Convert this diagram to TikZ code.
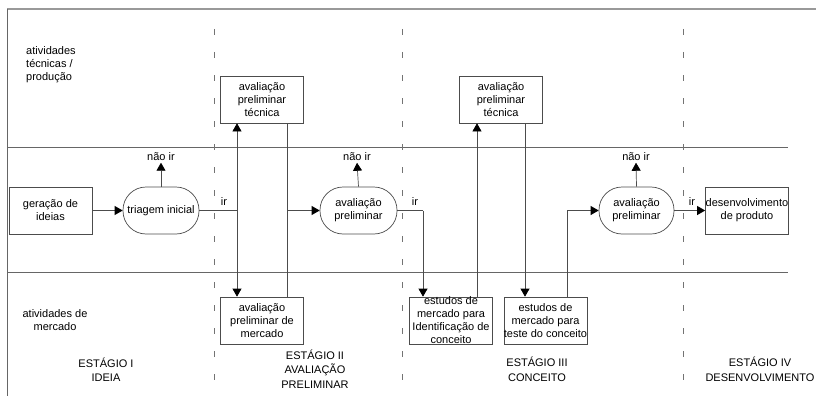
\documentclass[tikz,border=0pt]{standalone}
\usepackage{fontspec}
\setmainfont{Liberation Sans}
\usepackage{tikz}
\usetikzlibrary{arrows.meta}

\begin{document}
\begin{tikzpicture}[x=1pt, y=-1pt, font=\fontsize{11}{13}\selectfont]
    % Define the styles for the nodes and lines
    \tikzstyle{frame} = [draw=black!60, line width=0.8pt]
    \tikzstyle{stage} = [draw=black!55, line width=0.7pt, dash pattern=on 6pt off 17pt]
    \tikzstyle{box} = [rectangle, draw=black!70, line width=0.7pt, minimum width=83pt, minimum height=47pt, align=center, inner sep=0pt]
    \tikzstyle{decision} = [rectangle, rounded corners=23pt, draw=black!70, line width=0.7pt, minimum width=76pt, minimum height=47pt, align=center, inner sep=0pt]
    \tikzstyle{line} = [draw=black!70, line width=0.7pt]
    \tikzstyle{arrow} = [line, -{Triangle[length=8pt, width=9pt, color=black]}]
    \tikzstyle{lbl} = [inner sep=1.5pt, align=center]
    \tikzstyle{stagelbl} = [inner sep=0pt, align=center, font=\fontsize{11}{14.5}\selectfont]

    \useasboundingbox (0,0) rectangle (816,396);
    \clip (0,0) rectangle (816,396);

    % Frame, lanes and stages
    \draw[frame, draw=black!40, line width=1.2pt] (7,9) -- (816,9);
    \draw[frame] (7,9) -- (7,396);
    \draw[frame] (7,147) -- (788,147);
    \draw[frame] (7,272) -- (788,272);
    \foreach \x in {214,402,683}
        \draw[stage] (\x,29) -- (\x,396);

    % Place the nodes
    \node[box] (tec1) at (262,99.5) {avaliação\\preliminar\\técnica};
    \node[box] (tec2) at (501,99.5) {avaliação\\preliminar\\técnica};
    \node[box] (ideias) at (50.5,210.5) {geração de\\ideias};
    \node[decision] (triagem) at (161,210.5) {triagem inicial};
    \node[decision, minimum width=77pt] (prelim1) at (358.5,210.5) {avaliação\\preliminar};
    \node[decision, minimum width=75pt] (prelim2) at (636.5,210.5) {avaliação\\preliminar};
    \node[box] (produto) at (747,210.5) {desenvolvimento\\de produto};
    \node[box] (merc1) at (262,320.5) {avaliação\\preliminar de\\mercado};
    \node[box] (merc2) at (451,320.5) {};
    \node[lbl, inner sep=0pt] (merc2txt) at (merc2) {estudos de\\mercado para\\Identificação de\\conceito};
    \node[box] (merc3) at (545.5,320.5) {estudos de\\mercado para\\teste do conceito};

    \node[lbl] (nao1) at (161,157) {não ir};
    \node[lbl] (nao2) at (357,157) {não ir};
    \node[lbl] (nao3) at (636,157) {não ir};
    \node[lbl] (ir1) at (224,202) {ir};
    \node[lbl] (ir2) at (415,202) {ir};
    \node[lbl] (ir3) at (692,202) {ir};

    % Lane and stage labels
    \node[lbl, align=left, anchor=west, inner sep=0pt] (tecnicas) at (26,65) {atividades\\técnicas /\\produção};
    \node[lbl, inner sep=0pt] (mercado) at (55,320.5) {atividades de\\mercado};
    \node[stagelbl] (st1) at (106,369.5) {ESTÁGIO I\\IDEIA};
    \node[stagelbl] (st2) at (315,369) {ESTÁGIO II\\AVALIAÇÃO\\PRELIMINAR};
    \node[stagelbl] (st3) at (537,369.5) {ESTÁGIO III\\CONCEITO};
    \node[stagelbl] (st4) at (760,369.5) {ESTÁGIO IV\\DESENVOLVIMENTO};

    % Junctions
    \coordinate (j1) at (237,210.5);
    \coordinate (j2) at (287,210.5);
    \coordinate (j3) at (423,210.5);
    \coordinate (j4) at (477,210.5);
    \coordinate (j5) at (525,210.5);
    \coordinate (j6) at (567,210.5);

    % Connect the nodes with paths
    \draw[arrow] (ideias) -- (triagem);
    \draw[arrow] (triagem.north) -- (nao1.south);
    \draw[line] (triagem) -- (j1);
    \draw[arrow] (j1) -- (j1 |- tec1.south);
    \draw[arrow] (j1) -- (j1 |- merc1.north);
    \draw[line] (j2 |- tec1.south) -- (j2 |- merc1.north);
    \draw[arrow] (j2) -- (prelim1);
    \draw[arrow] (prelim1.north) -- (nao2.south);
    \draw[line] (prelim1) -- (j3);
    \draw[arrow] (j3) -- (j3 |- merc2.north);
    \draw[arrow] (j4 |- merc2.north) -- (j4 |- tec2.south);
    \draw[arrow] (j5 |- tec2.south) -- (j5 |- merc3.north);
    \draw[line] (j6 |- merc3.north) -- (j6);
    \draw[arrow] (j6) -- (prelim2);
    \draw[arrow] (prelim2.north) -- (nao3.south);
    \draw[arrow] (prelim2) -- (produto);

\end{tikzpicture}
\end{document}
